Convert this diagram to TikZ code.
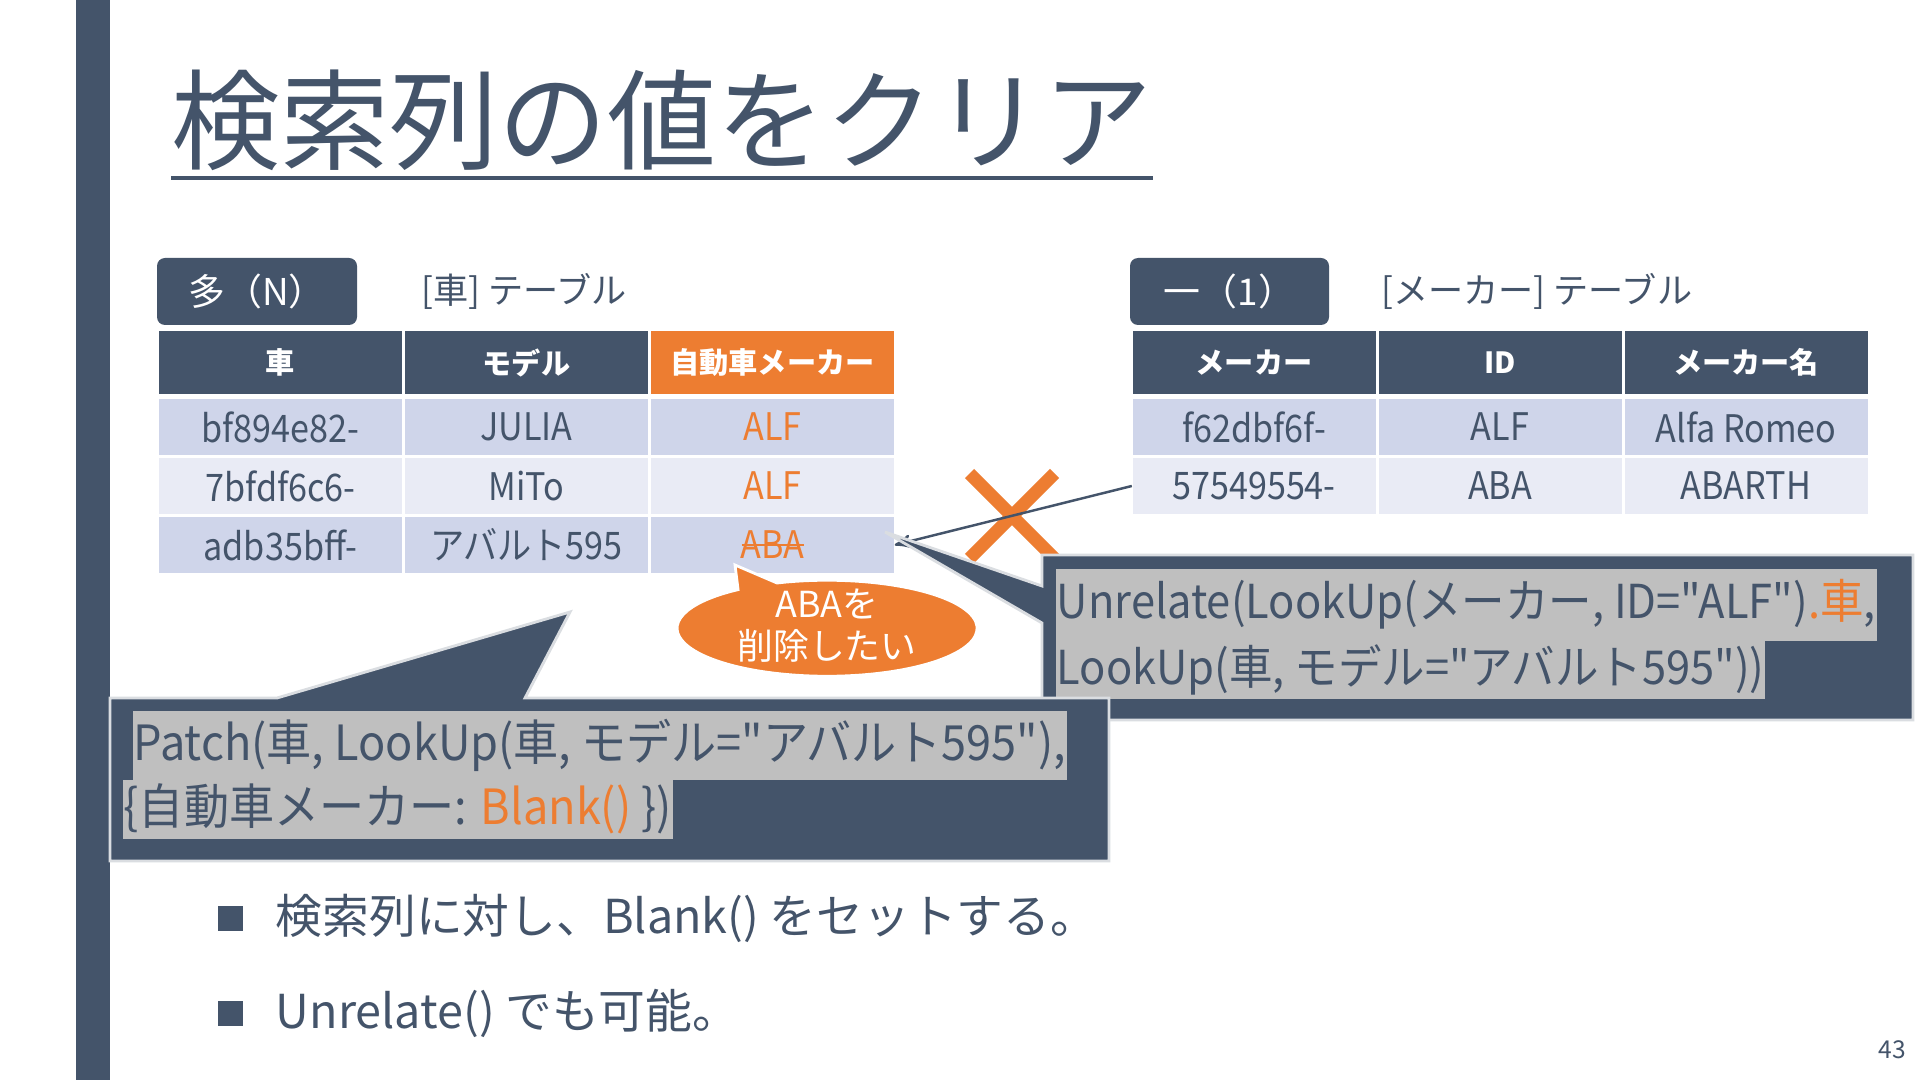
\documentclass[tikz,border=0pt]{standalone}
\usepackage{fontspec}
\setmainfont{Noto Sans CJK JP}[Ligatures=TeXOff]
\newfontfamily\cellfont{Noto Sans CJK JP}[FakeStretch=0.9, Ligatures=TeXOff]
\newfontfamily\codefont{Noto Sans CJK JP}[FakeStretch=0.93, Ligatures=TeXOff]
\usepackage{tikz}
\usetikzlibrary{positioning, arrows, shapes.misc}
\definecolor{slate}{HTML}{44546A}
\definecolor{accent}{HTML}{ED7D31}
\definecolor{bandA}{HTML}{CFD5EA}
\definecolor{bandB}{HTML}{E9EBF5}
\definecolor{hilite}{HTML}{BFBFBF}
\tikzset{
>=stealth', % arrow heads
node distance=2.46cm, % column pitch of both tables
every node/.style={text=slate},
headcell/.style={fill=slate, text=white, minimum width=2.43cm, minimum height=0.63cm, inner sep=0pt, font=\fontsize{8.3}{10}\selectfont\bfseries}, % header row
bodycell/.style={minimum width=2.43cm, minimum height=0.56cm, inner sep=0pt, font=\cellfont\fontsize{10.8}{13}\selectfont},
rowA/.style={bodycell, fill=bandA}, % darker band
rowB/.style={bodycell, fill=bandB}, % lighter band
tag/.style={fill=slate, text=white, rounded corners=0.08cm, minimum width=2cm, minimum height=0.67cm, font=\fontsize{10.5}{12}\selectfont},
tablename/.style={inner sep=0pt, font=\fontsize{10}{12}\selectfont},
codeline/.style={fill=hilite, inner xsep=0.01cm, inner ysep=0pt, anchor=north west, font=\codefont\fontsize{13.3}{16}\selectfont},
balloonbox/.style={fill=slate, draw=white!80!slate, line width=0.8pt},
pointtext/.style={inner sep=0pt, font=\fontsize{13.3}{16}\selectfont},
bulletsq/.style={fill=slate, minimum size=0.25cm, inner sep=0pt},
}

\begin{document}
\begin{tikzpicture}
\useasboundingbox (0,0) rectangle (19.2,-10.8);
\fill[white] (0,0) rectangle (19.2,-10.8);
\fill[slate] (0.76,0) rectangle (1.10,-10.8);

% title
\node[inner sep=0pt, anchor=west, font=\fontsize{31}{36}\selectfont] (title) at (1.71,-1.20) {検索列の値をクリア};
\coordinate (ul) at (0,-1.78);
\draw[slate, line width=1.2pt] (title.west |- ul) -- (title.east |- ul);

% table captions
\node[tag] (tagN) at (2.57,-2.915) {多（N）};
\node[tablename, right=0.63cm of tagN] (carname) {[車] テーブル};
\node[tag, minimum width=1.99cm] (tag1) at (12.295,-2.915) {一（1）};
\node[tablename, right=0.51cm of tag1] (mkname) {[メーカー] テーブル};

% many side
\node[headcell] (ch1) at (2.805,-3.625) {車};
\node[headcell, right of=ch1] (ch2) {モデル};
\node[headcell, right of=ch2, fill=accent] (ch3) {自動車メーカー};
\node[rowA, below of=ch1, node distance=0.645cm] (c1a) {bf894e82-};
\node[rowA, right of=c1a] (c1b) {JULIA};
\node[rowA, right of=c1b, text=accent] (c1c) {ALF};
\node[rowB, below of=c1a, node distance=0.59cm] (c2a) {7bfdf6c6-};
\node[rowB, right of=c2a] (c2b) {MiTo};
\node[rowB, right of=c2b, text=accent] (c2c) {ALF};
\node[rowA, below of=c2a, node distance=0.59cm] (c3a) {adb35bff-};
\node[rowA, right of=c3a] (c3b) {アバルト595};
\node[rowA, right of=c3b, text=accent] (c3c) {ABA};
\draw[accent, line width=0.6pt] ([xshift=-0.31cm]c3c.center) -- ([xshift=0.31cm]c3c.center);

% one side
\node[headcell] (mh1) at (12.54,-3.625) {メーカー};
\node[headcell, right of=mh1] (mh2) {ID};
\node[headcell, right of=mh2] (mh3) {メーカー名};
\node[rowA, below of=mh1, node distance=0.645cm] (m1a) {f62dbf6f-};
\node[rowA, right of=m1a] (m1b) {ALF};
\node[rowA, right of=m1b] (m1c) {Alfa Romeo};
\node[rowB, below of=m1a, node distance=0.59cm] (m2a) {57549554-};
\node[rowB, right of=m2a] (m2b) {ABA};
\node[rowB, right of=m2b] (m2c) {ABARTH};

% broken link
\node[cross out, draw=accent, line width=3.7pt, minimum size=0.72cm, inner sep=0pt] (nolink) at (10.12,-5.16) {};
\draw[<-, slate, line width=0.7pt] (c3c.east) -- (m2a.west);

% Unrelate callout
\draw[balloonbox] (10.42,-5.55) -- (19.13,-5.55) -- (19.13,-7.20) -- (10.42,-7.20) -- (10.42,-6.23) -- (8.85,-5.32) -- (10.42,-5.86) -- cycle;
\node[codeline, minimum height=0.72cm] (u1) at (10.55,-5.68) {Unrelate(LookUp(メーカー, ID="ALF")\textcolor{accent}{.車},};
\node[codeline, minimum height=0.58cm] (u2) at (10.55,-6.40) {LookUp(車, モデル="アバルト595"))};

% Patch callout
\draw[balloonbox] (1.10,-6.98) -- (2.77,-6.98) -- (5.70,-6.12) -- (5.25,-6.98) -- (11.09,-6.98) -- (11.09,-8.61) -- (1.10,-8.61) -- cycle;
\node[codeline, minimum height=0.69cm, font=\codefont\fontsize{13.8}{16}\selectfont] (p1) at (1.32,-7.10) {Patch(車, LookUp(車, モデル="アバルト595"),};
\node[codeline, minimum height=0.59cm, font=\codefont\fontsize{13.8}{16}\selectfont] (p2) at (1.22,-7.79) {\{自動車メーカー: \textcolor{accent}{Blank()} \})};

% wish bubble
\draw[fill=accent, draw=white, line width=0.8pt] (7.38,-5.89) -- (7.35,-5.65) -- (7.77,-5.83) arc[start angle=109.5, end angle=-233.6, x radius=1.5cm, y radius=0.48cm] -- cycle;
\node[text=white, align=center, inner sep=0pt, font=\fontsize{10.2}{12}\selectfont] (wish) at (8.27,-6.26) {ABAを\\削除したい};

% bullet points
\node[bulletsq] (sq1) at (2.30,-9.18) {};
\node[pointtext, right=0.32cm of sq1] (pt1) {検索列に対し、Blank() をセットする。};
\node[bulletsq] (sq2) at (2.30,-10.13) {};
\node[pointtext, right=0.32cm of sq2] (pt2) {Unrelate() でも可能。};

\node[font=\fontsize{7}{8}\selectfont] (pageno) at (18.92,-10.50) {43};
\end{tikzpicture}
\end{document}
